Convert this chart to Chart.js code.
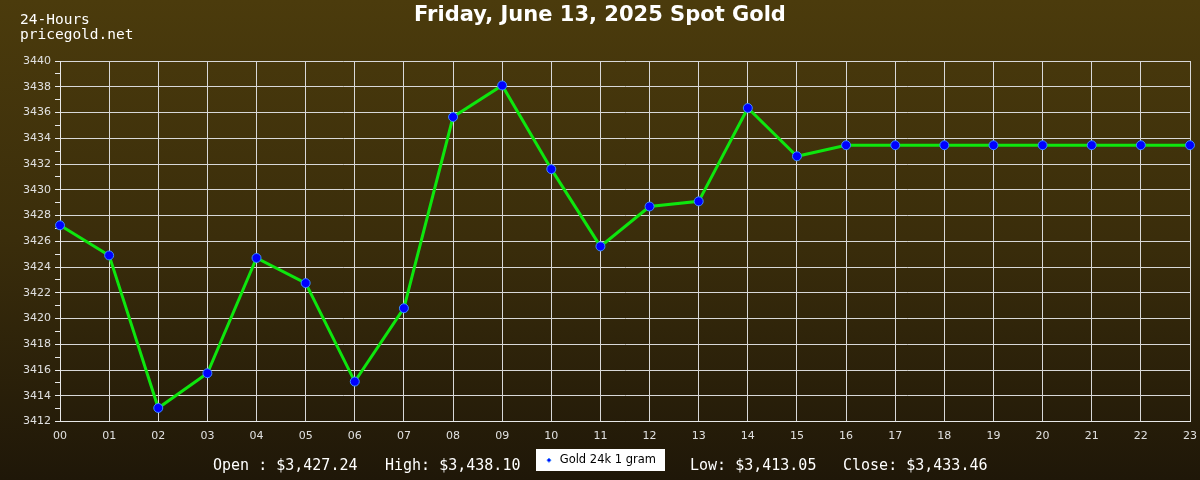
<!DOCTYPE html>
<html>
<head>
<meta charset="utf-8">
<script src="https://cdn.jsdelivr.net/npm/chart.js@4/dist/chart.umd.min.js"></script>
<style>
  html, body { margin: 0; padding: 0; }
  body {
    width: 1200px; height: 480px; position: relative; overflow: hidden;
    background: linear-gradient(to bottom, #4b3b0c 0%, #3a2d0b 50%, #1f1708 100%);
  }
  #wrap { position: absolute; left: 0; top: 0; width: 1200px; height: 480px; }
  .txt { position: absolute; color: #ffffff; white-space: pre; }
  #title { left: 0; width: 1200px; top: 2px; text-align: center; font: bold 21px "DejaVu Sans", sans-serif; }
  #site { left: 20px; top: 12px; font: 14.5px/15px "DejaVu Sans Mono", monospace; }
  .stat { top: 456px; font: 15px "DejaVu Sans Mono", monospace; }
</style>
</head>
<body>
<div id="wrap"><canvas id="myChart" width="1200" height="480"></canvas></div>
<div class="txt" id="title">Friday, June 13, 2025 Spot Gold</div>
<div class="txt" id="site">24-Hours
pricegold.net</div>
<div class="txt stat" style="left:213px">Open : $3,427.24</div>
<div class="txt stat" style="left:385px">High: $3,438.10</div>
<div class="txt stat" style="left:690px">Low: $3,413.05</div>
<div class="txt stat" style="left:843px">Close: $3,433.46</div>
<script>
// import canvas for ChartJS
const ctx = document.getElementById("myChart").getContext("2d");

// hour labels along the bottom
const hours = ["00", "01", "02", "03", "04", "05", "06", "07", "08", "09", "10", "11",
  "12", "13", "14", "15", "16", "17", "18", "19", "20", "21", "22", "23"];

// spot price per hour
const prices = [3427.24, 3424.9, 3413.05, 3415.75, 3424.7, 3422.75, 3415.1, 3420.8,
  3435.65, 3438.10, 3431.6, 3425.6, 3428.7, 3429.1, 3436.35, 3432.6,
  3433.46, 3433.46, 3433.46, 3433.46, 3433.46, 3433.46, 3433.46, 3433.46];

const seriesName = "Gold 24k 1 gram";
const yMin = 3412;
const yMax = 3440;

// white box behind the legend item
const legendBox = {
  id: "legendBox",
  beforeDraw: (chart) => {
    const lg = chart.legend;
    if (!lg || !lg.legendHitBoxes || !lg.legendHitBoxes.length) return;
    const hb = lg.legendHitBoxes[0];
    const c = chart.ctx;
    const cx = hb.left + hb.width / 2;
    const cy = hb.top + hb.height / 2;
    c.save();
    c.fillStyle = "#ffffff";
    c.fillRect(Math.round(cx - 64), Math.round(cy - 11), 129, 22);
    c.restore();
  },
};

var myChart = new Chart(ctx, {
  type: "line",
  data: {
    labels: hours,
    datasets: [
      {
        label: seriesName,
        data: prices,
        borderColor: "#0ee60e",
        borderWidth: 3,
        tension: 0,
        pointRadius: 4.5,
        pointHoverRadius: 4.5,
        pointBackgroundColor: "#0000ff",
        pointBorderColor: "#3a8cff",
        pointBorderWidth: 1,
        pointStyle: "circle",
      },
    ],
  },
  plugins: [legendBox],
  options: {
    responsive: false,
    animation: false,
    layout: { padding: { top: 61, right: 0, left: 0, bottom: 4 } },
    plugins: {
      title: { display: false },
      tooltip: { enabled: false },
      legend: {
        position: "bottom",
        labels: {
          usePointStyle: true,
          pointStyle: "rectRot",
          boxWidth: 10,
          boxHeight: 3,
          color: "#000000",
          padding: 10,
          font: { family: "'DejaVu Sans', sans-serif", size: 11.5 },
        },
      },
    },
    scales: {
      x: {
        offset: false,
        afterFit: (s) => {
          s.height = 23;
          s.paddingRight = 10;
        },
        grid: { color: "#d8d8d8", lineWidth: 1, drawTicks: false },
        border: { color: "#e8e8e8" },
        ticks: {
          color: "#e0e0e0",
          padding: 8,
          maxRotation: 0,
          autoSkip: false,
          font: { family: "'DejaVu Sans', sans-serif", size: 11 },
        },
      },
      y: {
        min: yMin,
        max: yMax,
        afterFit: (s) => { s.width = 60; },
        grid: {
          color: (c) => (c.tick && c.tick.value % 2 === 0 ? "#d8d8d8" : "rgba(0,0,0,0)"),
          tickColor: "#e8e8e8",
          tickLength: 5,
          lineWidth: 1,
        },
        border: { color: "#e8e8e8" },
        ticks: {
          stepSize: 1,
          color: "#e0e0e0",
          padding: 4,
          autoSkip: false,
          font: { family: "'DejaVu Sans', sans-serif", size: 11 },
          callback: (v) => (v % 2 === 0 ? String(v) : ""),
        },
      },
    },
  },
});
</script>
</body>
</html>
